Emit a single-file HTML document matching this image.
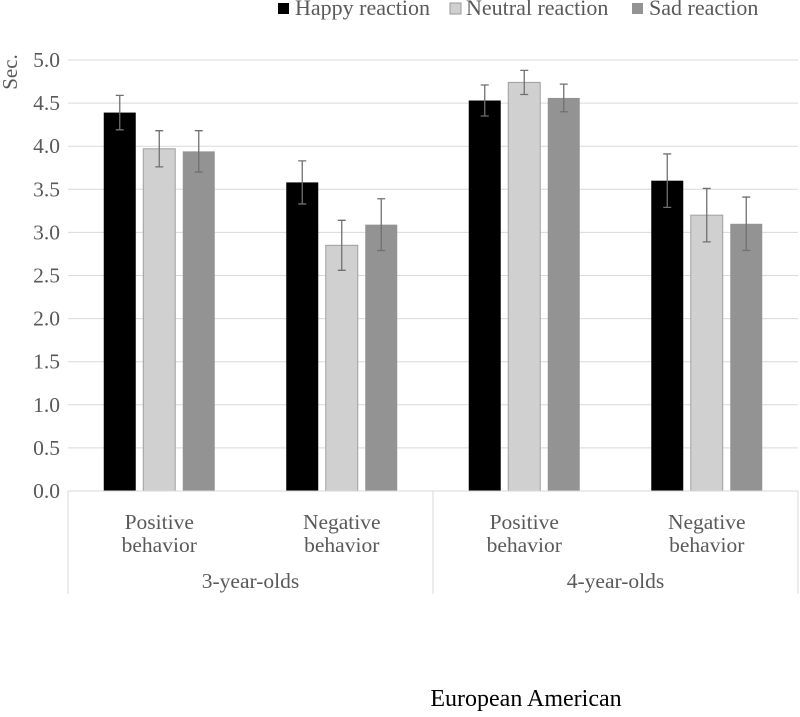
<!DOCTYPE html>
<html><head><meta charset="utf-8"><style>
body{margin:0;background:#fff;}
svg, svg text{font-family:"Liberation Serif","DejaVu Serif",serif;}
</style></head><body>
<svg id="chart" width="800" height="712" xmlns="http://www.w3.org/2000/svg">
<g id="grid"></g><g id="bars"></g><g id="axis"></g>
<g font-size="22" fill="#595959">
 <rect x="278" y="3" width="11" height="11" fill="#000"/>
 <text x="295" y="15">Happy reaction</text>
 <rect x="450" y="3" width="11" height="11" fill="#d0d0d0" stroke="#999"/>
 <text x="466" y="15">Neutral reaction</text>
 <rect x="632" y="3" width="11" height="11" fill="#939393"/>
 <text x="649" y="15">Sad reaction</text>
</g>
<text transform="translate(17,72) rotate(-90)" text-anchor="middle" font-size="21" fill="#595959">Sec.</text>
<text x="526" y="706" text-anchor="middle" font-size="24" fill="#000">European American</text>
</svg>
<script>
const categories=["Positive|behavior","Negative|behavior","Positive|behavior","Negative|behavior"];
const groups=["3-year-olds","4-year-olds"];
const happy=[4.39,3.58,4.53,3.60];
const neutral=[3.97,2.85,4.74,3.20];
const sad=[3.94,3.09,4.56,3.10];
const happyErr=[0.20,0.25,0.18,0.31];
const neutralErr=[0.21,0.29,0.14,0.31];
const sadErr=[0.24,0.30,0.16,0.31];
const yTicks=[0,0.5,1,1.5,2,2.5,3,3.5,4,4.5,5];
const NS="http://www.w3.org/2000/svg";
const L=68,R=798,B=491,T=60;
const y=v=>B-(v/5)*(B-T);
const cw=(R-L)/categories.length;
const cx=i=>L+cw*(i+0.5);
function mk(t,a,p){const e=document.createElementNS(NS,t);for(const k in a)e.setAttribute(k,a[k]);p.appendChild(e);return e;}
const grid=document.getElementById('grid'),bars=document.getElementById('bars'),axis=document.getElementById('axis');
yTicks.forEach(v=>{
 if(v>0){const g=mk('line',{x1:L,x2:R,y1:y(v),y2:y(v),stroke:'#d9d9d9'},grid);
 
 }
 const t=mk('text',{x:60,y:y(v)+7,'text-anchor':'end','font-size':21.5,fill:'#595959'},axis);t.textContent=v.toFixed(1);
 
 
});
const series=[[happy,happyErr,'#000','none','happy'],[neutral,neutralErr,'#d0d0d0','#a0a0a0','neutral'],[sad,sadErr,'#939393','none','sad']];
categories.forEach((c,i)=>{
 series.forEach((s,j)=>{
  const x0=cx(i)+(j-1)*39.5-16,v=s[0][i],e=s[1][i];
  const r=mk('rect',{x:x0,y:y(v),width:32,height:B-y(v),fill:s[2],stroke:s[3]},bars);
  
  
  const xc=x0+16;
  const eb=mk('path',{d:`M${xc} ${y(v+e)}V${y(v-e)}M${xc-4} ${y(v+e)}H${xc+4}M${xc-4} ${y(v-e)}H${xc+4}`,stroke:'#707070','stroke-width':1.3,fill:'none'},bars);
  
  
 });
 const parts=c.split('|');
 parts.forEach((p,k)=>{const t=mk('text',{x:cx(i),y:529+k*23,'text-anchor':'middle','font-size':21.5,fill:'#595959'},axis);t.textContent=p;
 
 });
});
mk('line',{x1:L,x2:R,y1:B,y2:B,stroke:'#d9d9d9'},axis);
[L,(L+R)/2,R].forEach(x=>mk('line',{x1:x,x2:x,y1:B,y2:594,stroke:'#d9d9d9'},axis));
groups.forEach((g,i)=>{const t=mk('text',{x:L+(R-L)/2*(i+0.5),y:588,'text-anchor':'middle','font-size':21.5,fill:'#595959'},axis);t.textContent=g;
 
 });
</script>
</body></html>
